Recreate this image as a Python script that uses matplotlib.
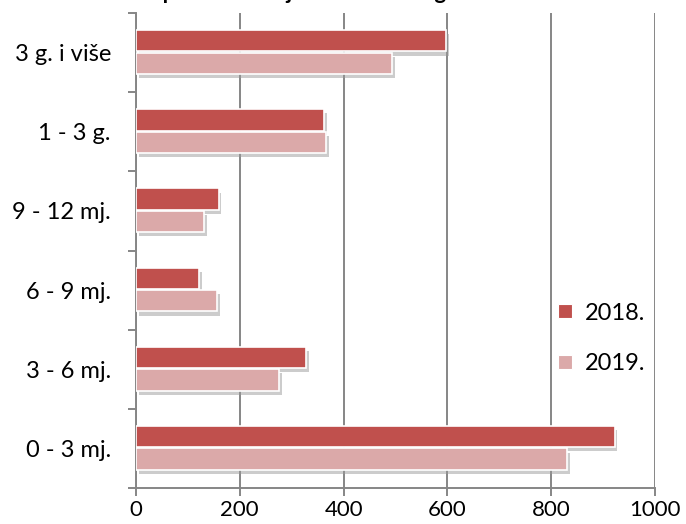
import matplotlib
matplotlib.use("Agg")
import matplotlib.pyplot as plt
import matplotlib.patheffects as pe
from matplotlib.lines import Line2D
import numpy as np

categories = ["0 - 3 mj.", "3 - 6 mj.", "6 - 9 mj.", "9 - 12 mj.", "1 - 3 g.", "3 g. i više"]
series_2018 = [922, 328, 121, 159, 362, 597]
series_2019 = [830, 275, 156, 131, 366, 494]
series_labels = ["2018.", "2019."]
x_ticks = [0, 200, 400, 600, 800, 1000]
title = "Nezaposleni - broj osoba u ovim godinama"

plt.rcParams['font.family'] = ['Lato', 'DejaVu Sans']

fig = plt.figure(figsize=(6.86, 5.24), dpi=100)
ax = fig.add_axes([136/686, 1 - 488/524, (655-136)/686, (488-13)/524])

y = np.arange(len(categories))
h = 0.27
shadow = [pe.SimplePatchShadow(offset=(2, -3), shadow_rgbFace='#9a9a9a', alpha=0.5), pe.Normal()]
b1 = ax.barh(y + 0.15, series_2018, height=h, color='#C0504D', edgecolor='white', linewidth=1.2,
             label=series_labels[0], zorder=3)
b2 = ax.barh(y - 0.135, series_2019, height=h, color='#DBA9A9', edgecolor='white', linewidth=1.2,
             label=series_labels[1], zorder=3)
for b in list(b1) + list(b2):
    b.set_path_effects(shadow)

ax.set_xlim(0, 1000)
ax.set_ylim(-0.5, len(categories) - 0.5)
ax.set_xticks(x_ticks)
ax.set_xticklabels([str(v) for v in x_ticks])
ax.set_yticks(y)
ax.set_yticklabels(categories)
ax.set_yticks(np.arange(-0.5, len(categories), 1.0), minor=True)

ax.grid(axis='x', color='#868686', linewidth=1.4, zorder=0)
for s in ['top', 'right']:
    ax.spines[s].set_visible(False)
for s in ['left', 'bottom']:
    ax.spines[s].set_color('#868686')
    ax.spines[s].set_linewidth(1.4)
ax.tick_params(axis='y', which='major', length=0, pad=18, labelsize=17)
ax.tick_params(axis='y', which='minor', length=6, width=1.4, color='#868686')
ax.tick_params(axis='x', which='major', length=6, width=1.4, color='#868686', pad=3, labelsize=16)

handles = [Line2D([], [], marker='s', linestyle='none', markersize=10, markerfacecolor=c,
                  markeredgecolor='white', markeredgewidth=0.8) for c in ['#C0504D', '#DBA9A9']]
leg = ax.legend(handles, series_labels, loc='center left', bbox_to_anchor=(0.79, 0.315),
                frameon=False, fontsize=17, handlelength=0.8, handletextpad=0.45,
                labelspacing=1.25, borderaxespad=0)

fig.text(112/686, 1.0 + 1/524, title, ha='left', va='baseline', fontsize=16, fontweight='bold')

fig.savefig("out.png", dpi=100)
